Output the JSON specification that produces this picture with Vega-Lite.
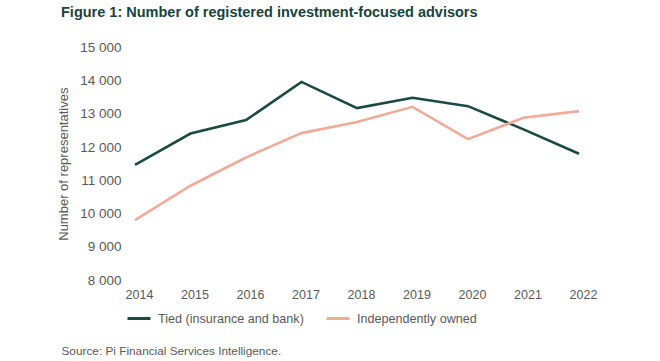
{
  "$schema": "https://vega.github.io/schema/vega-lite/v6.json",
  "autosize": {"type": "none"},
  "padding": {"left": 135, "top": 47.3, "right": 81, "bottom": 81},
  "width": 444,
  "height": 232.7,
  "background": "white",
  "title": {
    "text": "Figure 1: Number of registered investment-focused advisors",
    "anchor": "start",
    "frame": "group",
    "dx": -74,
    "offset": 20,
    "font": "Liberation Sans",
    "fontSize": 14.5,
    "fontWeight": "bold",
    "color": "#17443e"
  },
  "data": {
    "values": [
      {"year": "2014", "series": "Tied (insurance and bank)", "value": 11466},
      {"year": "2015", "series": "Tied (insurance and bank)", "value": 12407},
      {"year": "2016", "series": "Tied (insurance and bank)", "value": 12810},
      {"year": "2017", "series": "Tied (insurance and bank)", "value": 13960},
      {"year": "2018", "series": "Tied (insurance and bank)", "value": 13170},
      {"year": "2019", "series": "Tied (insurance and bank)", "value": 13480},
      {"year": "2020", "series": "Tied (insurance and bank)", "value": 13230},
      {"year": "2021", "series": "Tied (insurance and bank)", "value": 12530},
      {"year": "2022", "series": "Tied (insurance and bank)", "value": 11797},
      {"year": "2014", "series": "Independently owned", "value": 9804},
      {"year": "2015", "series": "Independently owned", "value": 10835},
      {"year": "2016", "series": "Independently owned", "value": 11686},
      {"year": "2017", "series": "Independently owned", "value": 12419},
      {"year": "2018", "series": "Independently owned", "value": 12750},
      {"year": "2019", "series": "Independently owned", "value": 13210},
      {"year": "2020", "series": "Independently owned", "value": 12238},
      {"year": "2021", "series": "Independently owned", "value": 12879},
      {"year": "2022", "series": "Independently owned", "value": 13080}
    ]
  },
  "mark": {"type": "line", "strokeWidth": 2.6, "strokeCap": "butt", "strokeJoin": "miter"},
  "encoding": {
    "x": {
      "field": "year",
      "type": "ordinal",
      "scale": {"type": "point", "padding": 0},
      "axis": {
        "labelAngle": 0,
        "domain": false,
        "ticks": false,
        "grid": false,
        "labelPadding": 8,
        "labelOffset": 4,
        "labelFontSize": 12.5,
        "labelColor": "#5a5a5a",
        "labelFont": "Liberation Sans",
        "title": "Source: Pi Financial Services Intelligence.",
        "titleAnchor": "start",
        "titleAlign": "left",
        "titleX": -74,
        "titleY": 70,
        "titleBaseline": "middle",
        "titleFont": "Liberation Sans",
        "titleFontSize": 11.8,
        "titleFontWeight": "normal",
        "titleColor": "#5a5a5a"
      }
    },
    "y": {
      "field": "value",
      "type": "quantitative",
      "scale": {"domain": [8000, 15000], "nice": false, "zero": false},
      "axis": {
        "values": [8000, 9000, 10000, 11000, 12000, 13000, 14000, 15000],
        "labelExpr": "replace(format(datum.value, ',d'), ',', ' ')",
        "domain": false,
        "ticks": false,
        "grid": false,
        "labelPadding": 14,
        "labelFontSize": 13.5,
        "labelColor": "#5a5a5a",
        "labelFont": "Liberation Sans",
        "title": "Number of representatives",
        "titlePadding": 9,
        "titleFont": "Liberation Sans",
        "titleFontSize": 13,
        "titleFontWeight": "normal",
        "titleColor": "#5a5a5a"
      }
    },
    "color": {
      "field": "series",
      "type": "nominal",
      "scale": {
        "domain": ["Tied (insurance and bank)", "Independently owned"],
        "range": ["#1b4a42", "#f0ab9a"]
      },
      "legend": {
        "title": null,
        "orient": "none",
        "direction": "horizontal",
        "legendX": -9,
        "legendY": 258,
        "symbolType": "stroke",
        "symbolSize": 529,
        "symbolStrokeWidth": 3,
        "labelOffset": 6,
        "columnPadding": 16,
        "labelFont": "Liberation Sans",
        "labelFontSize": 12.6,
        "labelColor": "#5a5a5a"
      }
    }
  },
  "config": {"view": {"stroke": null}}
}
